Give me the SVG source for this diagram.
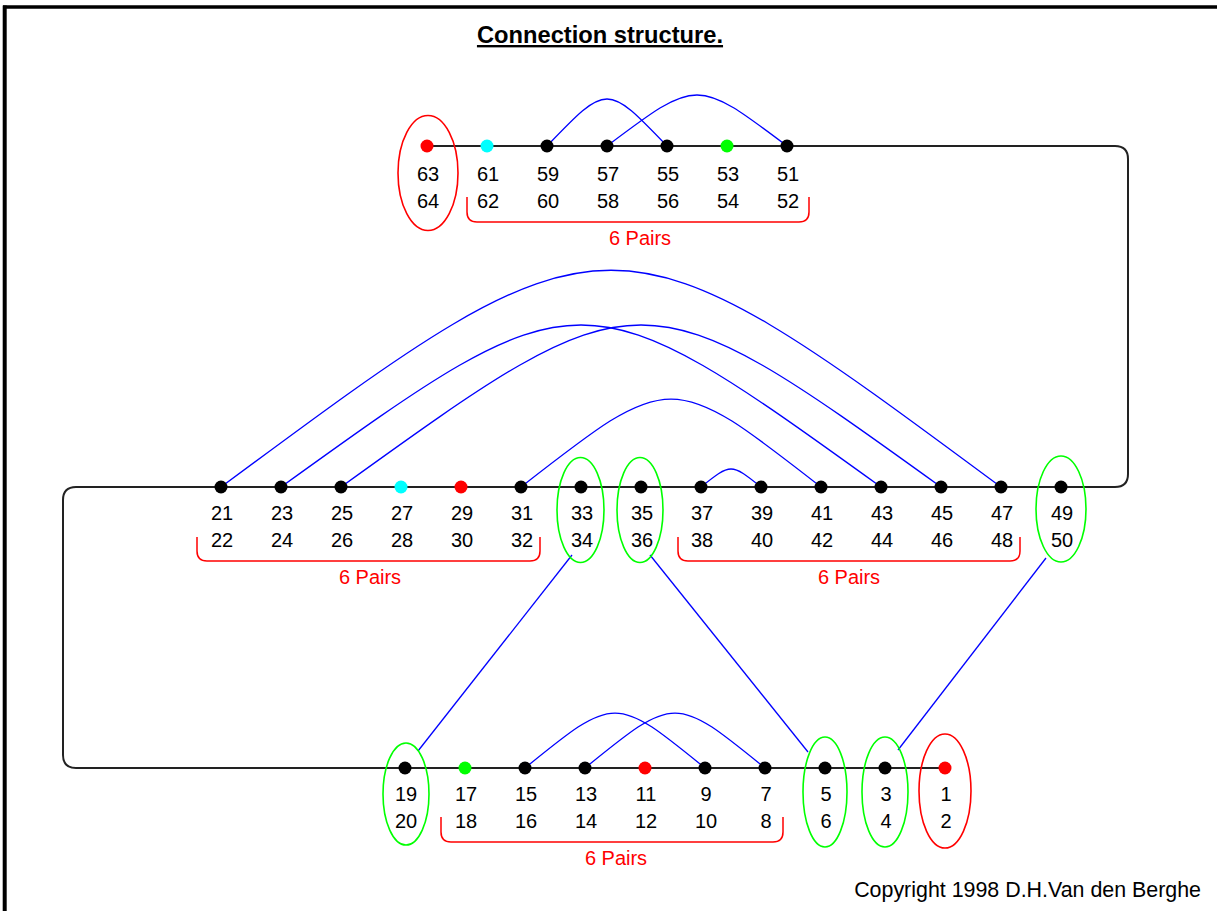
<svg xmlns="http://www.w3.org/2000/svg" width="1217" height="911" viewBox="0 0 1217 911">
<style>
text{font-family:"Liberation Sans",Arial,sans-serif}
.n{font-size:20px;fill:#000;text-anchor:middle}
.p{font-size:20px;fill:#ff0000;text-anchor:middle}
.bus{fill:none;stroke:#222;stroke-width:2}
.w{fill:none;stroke:#0000ff;stroke-width:1.3}
.br{fill:none;stroke:#ff0000;stroke-width:1.5}
.eg{fill:none;stroke:#00ff00;stroke-width:1.6}
.er{fill:none;stroke:#ff0000;stroke-width:1.6}
.k{fill:#000}.r{fill:#ff0000}.c{fill:#00ffff}.g{fill:#00ff00}
</style>
<rect x="0" y="0" width="1217" height="911" fill="#fff"/>
<g id="border" stroke="#000" fill="none">
<line x1="3" y1="7" x2="1217" y2="7" stroke-width="3.5"/>
<line x1="4.7" y1="5.5" x2="4.7" y2="911" stroke-width="4"/>
</g>
<text id="title" x="600" y="43" font-size="23.7" font-weight="bold" text-anchor="middle" text-decoration="underline">Connection structure.</text>
<g id="connectors">
<path class="bus" d="M427,146 H1115 Q1128,146 1128,159 V474 Q1128,487 1115,487 H76 Q63,487 63,500 V755 Q63,768 76,768 H945"/>
<path class="w" d="M547,146 C607,83.3 607,83.3 667,146"/>
<path class="w" d="M607,146 C697,78 697,78 787,146"/>
<path class="w" d="M221,487 C611,198 611,198 1001,487"/>
<path class="w" d="M281,487 C581,271 581,271 881,487"/>
<path class="w" d="M341,487 C641,271 641,271 941,487"/>
<path class="w" d="M521,487 C671,369.7 671,369.7 821,487"/>
<path class="w" d="M701,487 C731,463 731,463 761,487"/>
<path class="w" d="M525,768 C615,694.7 615,694.7 705,768"/>
<path class="w" d="M585,768 C675,694.7 675,694.7 765,768"/>
<line class="w" x1="572" y1="555" x2="418" y2="751"/>
<line class="w" x1="650" y1="555" x2="808" y2="752"/>
<line class="w" x1="1046" y1="558" x2="898" y2="750"/>
</g>
<g id="groups">
<ellipse class="er" cx="428" cy="173" rx="30" ry="57.5"/>
<ellipse class="eg" cx="580.5" cy="510" rx="23.5" ry="52.5"/>
<ellipse class="eg" cx="640" cy="510" rx="23" ry="52.5"/>
<ellipse class="eg" cx="1061" cy="509" rx="25" ry="53"/>
<ellipse class="eg" cx="406" cy="794" rx="23" ry="51"/>
<ellipse class="eg" cx="825" cy="792" rx="22" ry="55"/>
<ellipse class="eg" cx="885" cy="792" rx="23" ry="55"/>
<ellipse class="er" cx="945" cy="791" rx="26" ry="57"/>
</g>
<g id="brackets">
<path class="br" d="M467,197 V212 Q467,222 477,222 H799 Q809,222 809,212 V197"/>
<text class="p" x="640" y="245">6 Pairs</text>
<path class="br" d="M197,537 V551 Q197,561 207,561 H530 Q540,561 540,551 V537"/>
<text class="p" x="370" y="584">6 Pairs</text>
<path class="br" d="M678,537 V551 Q678,561 688,561 H1010 Q1020,561 1020,551 V537"/>
<text class="p" x="849" y="584">6 Pairs</text>
<path class="br" d="M441,817 V832 Q441,842 451,842 H773 Q783,842 783,832 V817"/>
<text class="p" x="616" y="865">6 Pairs</text>
</g>
<g id="p63"><circle class="r" cx="427" cy="146" r="6.5"/><text class="n" x="428" y="181">63</text><text class="n" x="428" y="208">64</text></g>
<g id="p61"><circle class="c" cx="487" cy="146" r="6.5"/><text class="n" x="488" y="181">61</text><text class="n" x="488" y="208">62</text></g>
<g id="p59"><circle class="k" cx="547" cy="146" r="6.5"/><text class="n" x="548" y="181">59</text><text class="n" x="548" y="208">60</text></g>
<g id="p57"><circle class="k" cx="607" cy="146" r="6.5"/><text class="n" x="608" y="181">57</text><text class="n" x="608" y="208">58</text></g>
<g id="p55"><circle class="k" cx="667" cy="146" r="6.5"/><text class="n" x="668" y="181">55</text><text class="n" x="668" y="208">56</text></g>
<g id="p53"><circle class="g" cx="727" cy="146" r="6.5"/><text class="n" x="728" y="181">53</text><text class="n" x="728" y="208">54</text></g>
<g id="p51"><circle class="k" cx="787" cy="146" r="6.5"/><text class="n" x="788" y="181">51</text><text class="n" x="788" y="208">52</text></g>
<g id="p21"><circle class="k" cx="221" cy="487" r="6.5"/><text class="n" x="222" y="520">21</text><text class="n" x="222" y="547">22</text></g>
<g id="p23"><circle class="k" cx="281" cy="487" r="6.5"/><text class="n" x="282" y="520">23</text><text class="n" x="282" y="547">24</text></g>
<g id="p25"><circle class="k" cx="341" cy="487" r="6.5"/><text class="n" x="342" y="520">25</text><text class="n" x="342" y="547">26</text></g>
<g id="p27"><circle class="c" cx="401" cy="487" r="6.5"/><text class="n" x="402" y="520">27</text><text class="n" x="402" y="547">28</text></g>
<g id="p29"><circle class="r" cx="461" cy="487" r="6.5"/><text class="n" x="462" y="520">29</text><text class="n" x="462" y="547">30</text></g>
<g id="p31"><circle class="k" cx="521" cy="487" r="6.5"/><text class="n" x="522" y="520">31</text><text class="n" x="522" y="547">32</text></g>
<g id="p33"><circle class="k" cx="581" cy="487" r="6.5"/><text class="n" x="582" y="520">33</text><text class="n" x="582" y="547">34</text></g>
<g id="p35"><circle class="k" cx="641" cy="487" r="6.5"/><text class="n" x="642" y="520">35</text><text class="n" x="642" y="547">36</text></g>
<g id="p37"><circle class="k" cx="701" cy="487" r="6.5"/><text class="n" x="702" y="520">37</text><text class="n" x="702" y="547">38</text></g>
<g id="p39"><circle class="k" cx="761" cy="487" r="6.5"/><text class="n" x="762" y="520">39</text><text class="n" x="762" y="547">40</text></g>
<g id="p41"><circle class="k" cx="821" cy="487" r="6.5"/><text class="n" x="822" y="520">41</text><text class="n" x="822" y="547">42</text></g>
<g id="p43"><circle class="k" cx="881" cy="487" r="6.5"/><text class="n" x="882" y="520">43</text><text class="n" x="882" y="547">44</text></g>
<g id="p45"><circle class="k" cx="941" cy="487" r="6.5"/><text class="n" x="942" y="520">45</text><text class="n" x="942" y="547">46</text></g>
<g id="p47"><circle class="k" cx="1001" cy="487" r="6.5"/><text class="n" x="1002" y="520">47</text><text class="n" x="1002" y="547">48</text></g>
<g id="p49"><circle class="k" cx="1061" cy="487" r="6.5"/><text class="n" x="1062" y="520">49</text><text class="n" x="1062" y="547">50</text></g>
<g id="p19"><circle class="k" cx="405" cy="768" r="6.5"/><text class="n" x="406" y="801">19</text><text class="n" x="406" y="828">20</text></g>
<g id="p17"><circle class="g" cx="465" cy="768" r="6.5"/><text class="n" x="466" y="801">17</text><text class="n" x="466" y="828">18</text></g>
<g id="p15"><circle class="k" cx="525" cy="768" r="6.5"/><text class="n" x="526" y="801">15</text><text class="n" x="526" y="828">16</text></g>
<g id="p13"><circle class="k" cx="585" cy="768" r="6.5"/><text class="n" x="586" y="801">13</text><text class="n" x="586" y="828">14</text></g>
<g id="p11"><circle class="r" cx="645" cy="768" r="6.5"/><text class="n" x="646" y="801">11</text><text class="n" x="646" y="828">12</text></g>
<g id="p9"><circle class="k" cx="705" cy="768" r="6.5"/><text class="n" x="706" y="801">9</text><text class="n" x="706" y="828">10</text></g>
<g id="p7"><circle class="k" cx="765" cy="768" r="6.5"/><text class="n" x="766" y="801">7</text><text class="n" x="766" y="828">8</text></g>
<g id="p5"><circle class="k" cx="825" cy="768" r="6.5"/><text class="n" x="826" y="801">5</text><text class="n" x="826" y="828">6</text></g>
<g id="p3"><circle class="k" cx="885" cy="768" r="6.5"/><text class="n" x="886" y="801">3</text><text class="n" x="886" y="828">4</text></g>
<g id="p1"><circle class="r" cx="945" cy="768" r="6.5"/><text class="n" x="946" y="801">1</text><text class="n" x="946" y="828">2</text></g>
<text id="copyright" x="1201" y="897" font-size="21.4" fill="#000" text-anchor="end">Copyright 1998 D.H.Van den Berghe</text>
</svg>
